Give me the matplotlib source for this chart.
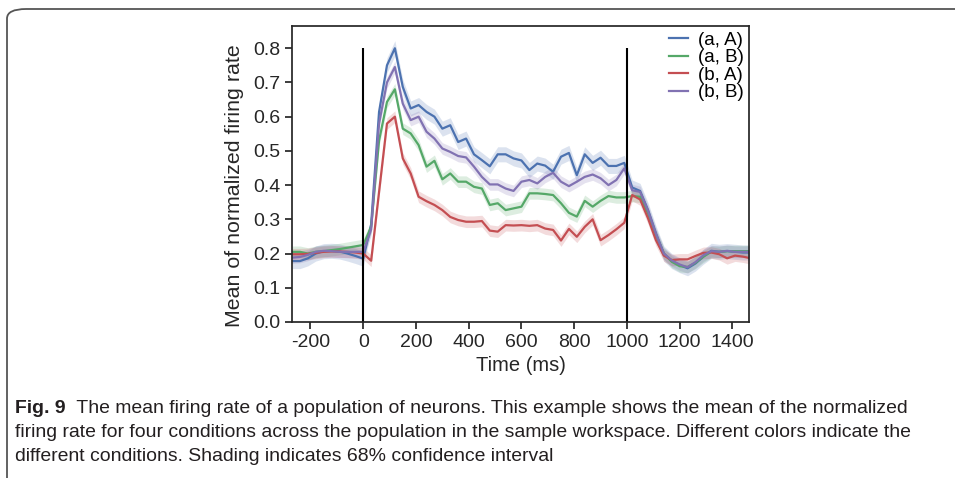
import numpy as np
import matplotlib.pyplot as plt
from matplotlib.patches import FancyBboxPatch

# time bins (ms)
time_ms = np.arange(-270, 1471, 30)

labels = ['(a, A)', '(a, B)', '(b, A)', '(b, B)']
colors = ['#4C72B0', '#55A868', '#C44E52', '#8172B2']

rate_aA = [0.178, 0.178, 0.186, 0.200, 0.207, 0.208, 0.206, 0.200, 0.193, 0.185,
           0.285, 0.614, 0.750, 0.800, 0.687, 0.624, 0.634, 0.614, 0.600, 0.565,
           0.575, 0.526, 0.536, 0.490, 0.473, 0.455, 0.490, 0.490, 0.478, 0.472,
           0.444, 0.463, 0.457, 0.439, 0.483, 0.494, 0.429, 0.490, 0.465, 0.480,
           0.456, 0.456, 0.465, 0.393, 0.383, 0.327, 0.259, 0.200, 0.178, 0.166,
           0.157, 0.171, 0.191, 0.208, 0.205, 0.207, 0.205, 0.203, 0.203]
rate_aB = [0.205, 0.205, 0.200, 0.205, 0.207, 0.210, 0.213, 0.217, 0.221, 0.225,
           0.278, 0.530, 0.643, 0.680, 0.565, 0.551, 0.517, 0.454, 0.471, 0.417,
           0.434, 0.410, 0.410, 0.395, 0.390, 0.342, 0.347, 0.327, 0.332, 0.337,
           0.376, 0.376, 0.374, 0.371, 0.347, 0.319, 0.308, 0.354, 0.337, 0.354,
           0.368, 0.364, 0.364, 0.368, 0.366, 0.317, 0.254, 0.200, 0.176, 0.163,
           0.161, 0.173, 0.191, 0.205, 0.205, 0.207, 0.207, 0.207, 0.207]
rate_bA = [0.198, 0.198, 0.199, 0.202, 0.205, 0.206, 0.206, 0.205, 0.203, 0.200,
           0.179, 0.380, 0.580, 0.600, 0.478, 0.434, 0.366, 0.353, 0.342, 0.327,
           0.307, 0.298, 0.293, 0.293, 0.295, 0.267, 0.264, 0.283, 0.282, 0.283,
           0.281, 0.283, 0.273, 0.269, 0.238, 0.272, 0.249, 0.278, 0.300, 0.239,
           0.254, 0.271, 0.290, 0.371, 0.358, 0.303, 0.239, 0.194, 0.181, 0.183,
           0.183, 0.193, 0.202, 0.203, 0.198, 0.186, 0.194, 0.191, 0.186]
rate_bB = [0.188, 0.190, 0.196, 0.205, 0.208, 0.207, 0.205, 0.205, 0.205, 0.205,
           0.270, 0.580, 0.700, 0.745, 0.638, 0.590, 0.600, 0.556, 0.536, 0.507,
           0.497, 0.485, 0.481, 0.454, 0.424, 0.402, 0.402, 0.390, 0.383, 0.410,
           0.415, 0.405, 0.424, 0.436, 0.410, 0.397, 0.410, 0.424, 0.431, 0.420,
           0.400, 0.415, 0.449, 0.385, 0.380, 0.325, 0.258, 0.200, 0.180, 0.168,
           0.160, 0.175, 0.195, 0.207, 0.205, 0.208, 0.205, 0.205, 0.205]
# half width of the 68% confidence band
ci_half = [0.022, 0.017, 0.017, 0.017]

rates = [rate_aA, rate_aB, rate_bA, rate_bB]

caption = [
    ('Fig. 9', '  The mean firing rate of a population of neurons. This example shows the mean of the normalized'),
    ('', 'firing rate for four conditions across the population in the sample workspace. Different colors indicate the'),
    ('', 'different conditions. Shading indicates 68% confidence interval'),
]

plt.rcParams['font.family'] = ['Liberation Sans', 'DejaVu Sans']
plt.rcParams['axes.unicode_minus'] = False

fig = plt.figure(figsize=(9.55, 4.78), dpi=100)
ax = fig.add_axes([0.3058, 0.3264, 0.4785, 0.6192])

for y, half, col, lab in zip(rates, ci_half, colors, labels):
    y = np.array(y)
    ax.fill_between(time_ms, y - half, y + half, color=col, alpha=0.2, lw=0)
    ax.plot(time_ms, y, color=col, lw=1.6, label=lab)

# stimulus onset / offset
ax.vlines([0, 1000], 0, 0.8, color='black', lw=1.5)

ax.set_xlim(-270, 1463)
ax.set_ylim(0, 0.865)
ax.set_xticks(np.arange(-200, 1401, 200))
ax.set_yticks(np.arange(0, 0.81, 0.1))
ax.tick_params(labelsize=14, length=5, width=1.25, color='#262626', labelcolor='#262626')
for s in ax.spines.values():
    s.set_linewidth(1.25)
    s.set_color('#262626')
ax.set_xlabel('Time (ms)', fontsize=14.5, color='#262626', labelpad=4)
ax.set_ylabel('Mean of normalized firing rate', fontsize=15.4, color='#262626')
ax.yaxis.set_label_coords(-0.105, 0.46)

ax.legend(loc='upper right', frameon=False, fontsize=13.5, handlelength=1.0,
          handletextpad=0.5, labelspacing=0.02, borderaxespad=0.2, borderpad=0.1)

# outer frame of the figure panel
frame = FancyBboxPatch((7 / 955, -0.2), 1.2, 1.2 - 9 / 478,
                       boxstyle='round,pad=0,rounding_size=0.02',
                       transform=fig.transFigure, fill=False, ec='#555555', lw=1.3,
                       clip_on=False)
fig.add_artist(frame)

# caption: size chosen so the first line spans the same width as the reference
fig.canvas.draw()
r = fig.canvas.get_renderer()
probe = fig.text(0, 0, caption[0][0] + caption[0][1], fontsize=13)
w = probe.get_window_extent(renderer=r).width
probe.remove()
cap_size = 13 * 885 / w

ys = [1 - 413 / 478, 1 - 437 / 478, 1 - 461 / 478]
for (bold, rest), yy in zip(caption, ys):
    x0 = 15 / 955
    if bold:
        t = fig.text(x0, yy, bold, fontsize=cap_size, weight='bold', color='#231F20')
        bb = t.get_window_extent(renderer=r)
        x0 = bb.x1 / fig.bbox.width
    fig.text(x0, yy, rest, fontsize=cap_size, color='#231F20')

fig.savefig('out.png', dpi=100)
